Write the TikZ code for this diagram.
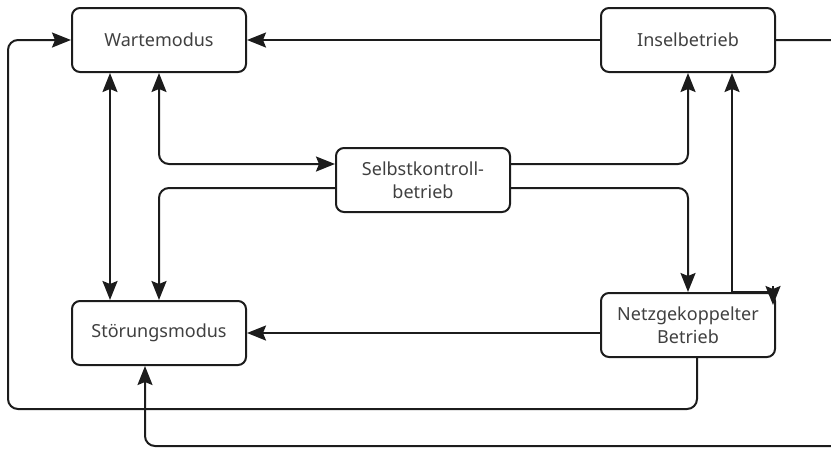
\documentclass[tikz,border=0pt]{standalone}
\usepackage{fontspec}
\setmainfont{Noto Sans}
\usetikzlibrary{arrows.meta}
\definecolor{linec}{HTML}{1C1C1C}
\definecolor{textc}{HTML}{404040}
\tikzset{
  box/.style={draw=linec, line width=2pt, rounded corners=8pt, minimum width=174pt, minimum height=64pt, inner sep=0pt, align=center, text=textc, font=\fontsize{18}{22.5}\selectfont},
  conn/.style={draw=linec, line width=2pt, rounded corners=10pt},
  arr/.style={conn, -{Stealth[length=19pt, width=15pt, inset=3pt]}},
  arrtwo/.style={conn, {Stealth[length=19pt, width=15pt, inset=3pt]}-{Stealth[length=19pt, width=15pt, inset=3pt]}}
}
\begin{document}
\begin{tikzpicture}[x=1pt, y=-1pt]
\useasboundingbox (0,0) rectangle (831,451);
\node[box] (warte) at (159,40) {Wartemodus};
\node[box] (insel) at (688,40) {Inselbetrieb};
\node[box] (selbst) at (423,180) {Selbstkontroll-\\betrieb};
\node[box] (netz) at (688,325) {Netzgekoppelter\\Betrieb};
\node[box] (stoer) at (159,333) {Störungsmodus};
\coordinate (lx) at (8,409);
\coordinate (rx) at (860,446);
\coordinate (g1) at ([xshift=-3pt]netz.north east);
% connectors
\draw[arr] (insel.west) -- (warte.east);
\draw[arrtwo] ([xshift=-49pt]warte.south) -- ([xshift=-49pt]stoer.north);
\draw[arrtwo] (warte.south) |- ([yshift=16pt]selbst.west);
\draw[arr] ([yshift=-8pt]selbst.west) -| (stoer.north);
\draw[arr] ([yshift=16pt]selbst.east) -| (insel.south);
\draw[arr] ([yshift=-8pt]selbst.east) -| (netz.north);
\draw[arr, rounded corners=0pt] (g1) -| ([xshift=44pt]insel.south);
\draw[arr, rounded corners=0pt] ([yshift=6pt]g1) -- ([yshift=-13pt]g1);
\draw[arr] (stoer.east -| netz.west) -- (stoer.east);
\draw[arr] ([xshift=9pt]netz.south) |- (lx) |- (warte.west);
\draw[arr] (insel.east) -| (rx) -| ([xshift=-14pt]stoer.south);
\end{tikzpicture}
\end{document}
